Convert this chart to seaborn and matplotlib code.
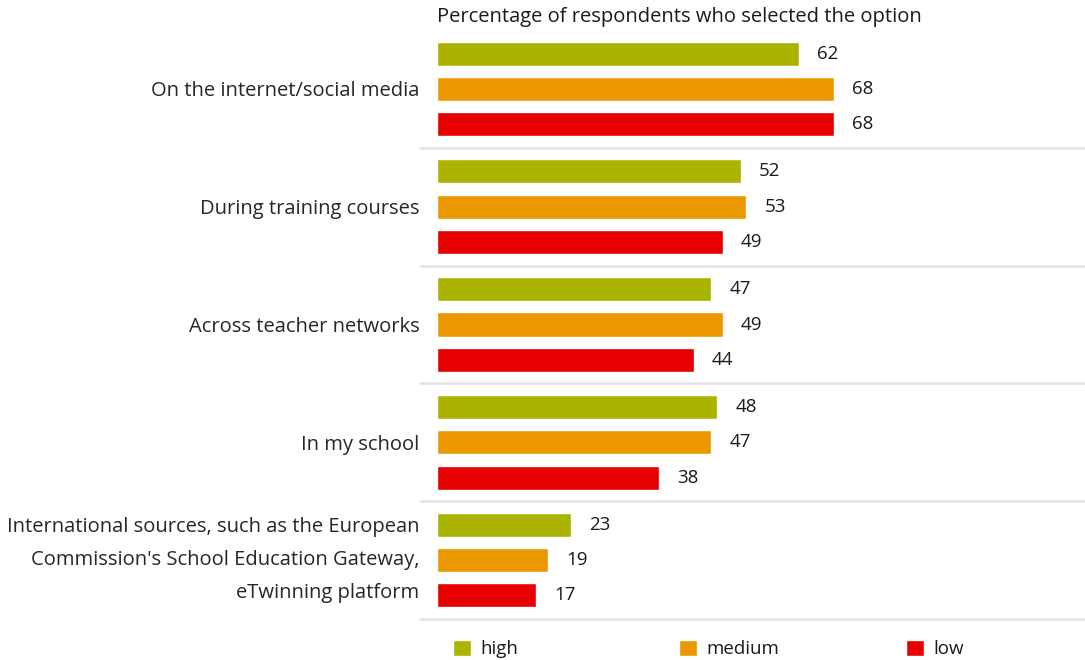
import matplotlib
matplotlib.use("Agg")
import matplotlib.pyplot as plt
from matplotlib.patches import Patch
import seaborn as sns
import pandas as pd

categories = [
    "On the internet/social media",
    "During training courses",
    "Across teacher networks",
    "In my school",
    "International sources, such as the European\nCommission's School Education Gateway,\neTwinning platform",
]
levels = ["high", "medium", "low"]
high = [62, 52, 47, 48, 23]
medium = [68, 53, 49, 47, 19]
low = [68, 49, 44, 38, 17]
title = "Percentage of respondents who selected the option"
colors = {"high": "#AAB400", "medium": "#EB9800", "low": "#E60000"}

df = pd.DataFrame({
    "category": categories * 3,
    "level": ["high"] * 5 + ["medium"] * 5 + ["low"] * 5,
    "value": high + medium + low,
})

sns.set_theme(style="white")
plt.rcParams["font.family"] = ["Open Sans", "DejaVu Sans"]
plt.rcParams["text.color"] = "#1a1a1a"

W, H = 1085, 660
fig = plt.figure(figsize=(W / 100, H / 100), dpi=100)
ax = fig.add_axes([420 / W, (H - 619) / H, (W - 420) / W, (619 - 30) / H])

sns.barplot(data=df, y="category", x="value", hue="level", order=categories,
            hue_order=levels, palette=colors, orient="h", width=0.9, gap=0.32,
            saturation=1, ax=ax, legend=False)

for cont in ax.containers:
    ax.bar_label(cont, padding=13, fontsize=13.5, color="#1a1a1a")

ax.set_xlim(-2.9, 111)
ax.set_ylim(4.5, -0.5)
for y in [0.5, 1.5, 2.5, 3.5, 4.5]:
    ax.axhline(y, color="#e3e3e3", lw=1.8, clip_on=False)

ax.set_xlabel("")
ax.set_ylabel("")
ax.set_xticks([])
ax.tick_params(axis="y", length=0, pad=0.5, labelsize=14.5)
for lbl in ax.get_yticklabels():
    lbl.set_horizontalalignment("right")
    lbl.set_multialignment("right")
    if "\n" in lbl.get_text():
        # wrapped label: spread its lines to sit beside the three bars
        lbl.set_verticalalignment("center")
        lbl.set_linespacing(1.88)
sns.despine(ax=ax, left=True, bottom=True)

fig.text(437 / W, 1 - 17 / H, title, ha="left", va="center", fontsize=14.5)

for lev, xpos in zip(levels, [453, 679, 906]):
    fig.legend(handles=[Patch(facecolor=colors[lev], label=lev)],
               loc="center left", bbox_to_anchor=(xpos / W, 1 - 649 / H),
               frameon=False, fontsize=13.5, handlelength=0.95, handleheight=0.95,
               handletextpad=0.5, borderpad=0, borderaxespad=0)

fig.savefig("out.png", dpi=100)
